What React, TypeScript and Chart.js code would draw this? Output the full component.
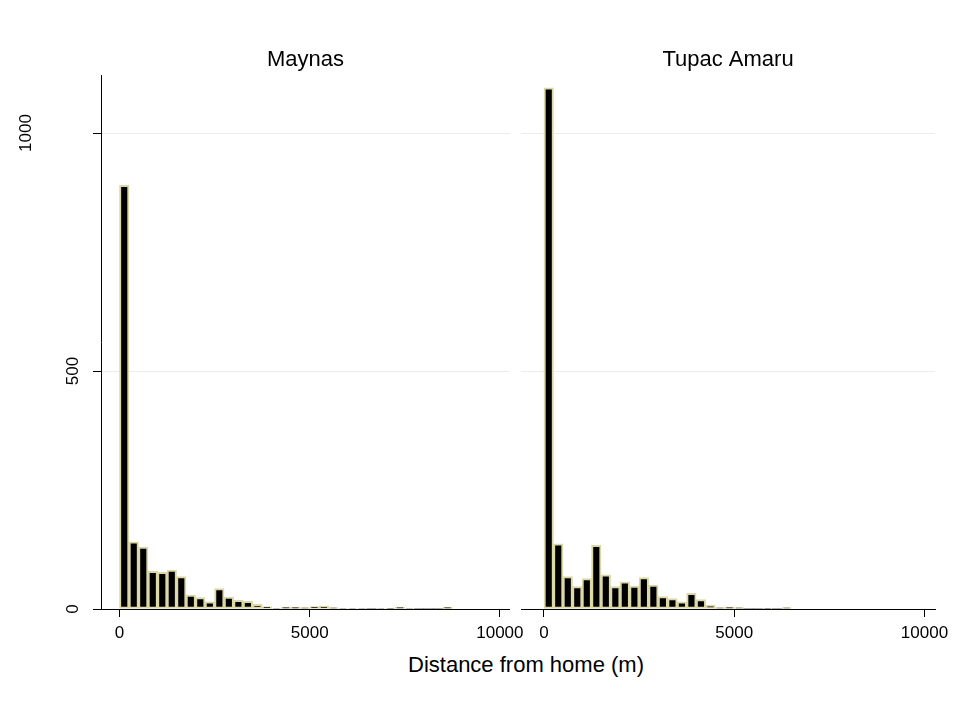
import React, { useEffect, useRef } from "react";
import { Chart, registerables } from "chart.js";

Chart.register(...registerables);

// Histogram bins: 250 m wide, starting at 0 m
const binWidth = 250;
const maynasCounts = [
  890, 141, 130, 79, 77, 82, 68, 29, 24, 15, 43, 25, 18, 16, 10, 5, 1, 4, 4, 3,
  5, 6, 3, 1, 1, 1, 0, 1, 2, 4, 1, 0, 0, 0, 4,
];
const tupacCounts = [
  1095, 137, 68, 47, 64, 134, 72, 47, 57, 48, 66, 50, 26, 22, 15, 33, 20, 8, 3, 4,
  3, 0, 0, 2, 0, 3,
];
const panelTitles = ["Maynas", "Tupac Amaru"];
const xTicks = [0, 5000, 10000];
const yTicksInner = [0, 500, 1000];
const yTicksOuter = [1000];
const xTitle = "Distance from home (m)";

const FONT = "'Liberation Sans', Arial, sans-serif";
const TICK_SIZE = 17;

function toPoints(counts: number[]) {
  return counts.map((c, i) => ({ x: i * binWidth + binWidth / 2, y: c }));
}

const Y_MAX = 1122;

function makeConfig(title: string, counts: number[], showY: boolean, xMin: number, xMax: number, rightPad: number): any {
  const scales: any = {
    x: {
      type: "linear",
      min: xMin,
      max: xMax,
      offset: false,
      afterBuildTicks: (s: any) => {
        s.ticks = xTicks.map((v) => ({ value: v }));
      },
      afterFit: (s: any) => {
        s.height = 41;
      },
      grid: {
        offset: false,
        drawOnChartArea: false,
        drawTicks: true,
        tickLength: 8,
        tickColor: "#000",
        color: "#000",
      },
      border: { display: true, color: "#000", width: 1 },
      ticks: {
        color: "#000",
        font: { family: FONT, size: TICK_SIZE, lineHeight: 1.2 },
        padding: 6,
        maxRotation: 0,
        autoSkip: false,
        callback: (v: any) => String(v),
      },
    },
    y: {
      type: "linear",
      min: 0,
      max: Y_MAX,
      weight: 0,
      afterBuildTicks: (s: any) => {
        s.ticks = yTicksInner.map((v) => ({ value: v }));
      },
      afterFit: (s: any) => {
        s.width = showY ? 51 : 6;
      },
      grid: {
        drawTicks: showY,
        tickLength: 8,
        tickColor: "#000",
        color: (ctx: any) => (ctx.tick && ctx.tick.value === 0 ? "rgba(0,0,0,0)" : "#e9edef"),
        lineWidth: 1,
      },
      border: { display: showY, color: "#000", width: 1 },
      ticks: {
        display: showY,
        color: "#000",
        font: { family: FONT, size: TICK_SIZE },
        minRotation: 90,
        maxRotation: 90,
        crossAlign: "center",
        padding: 6,
        callback: (v: any) => (yTicksOuter.includes(v) ? "" : String(v)),
      },
    },
  };
  if (showY) {
    scales.y2 = {
      type: "linear",
      position: "left",
      min: 0,
      max: Y_MAX,
      weight: 1,
      afterBuildTicks: (s: any) => {
        s.ticks = yTicksOuter.map((v) => ({ value: v }));
      },
      afterFit: (s: any) => {
        s.width = 50;
      },
      grid: { display: false, drawOnChartArea: false, drawTicks: false },
      border: { display: false },
      ticks: {
        color: "#000",
        font: { family: FONT, size: TICK_SIZE },
        minRotation: 90,
        maxRotation: 90,
        crossAlign: "center",
        padding: 5,
        callback: (v: any) => String(v),
      },
    };
  }
  return {
    type: "bar",
    data: {
      datasets: [
        {
          data: toPoints(counts),
          yAxisID: "y",
          backgroundColor: "#000000",
          borderColor: "#dcd7a6",
          borderWidth: (ctx: any) => (ctx.raw && ctx.raw.y > 0 ? 2 : 0),
          borderSkipped: false,
          barPercentage: 1,
          categoryPercentage: 1,
        },
      ],
    },
    options: {
      animation: false,
      responsive: false,
      maintainAspectRatio: false,
      layout: { padding: { left: 0, right: rightPad, top: 0, bottom: 0 } },
      plugins: {
        legend: { display: false },
        tooltip: { enabled: false },
        title: {
          display: true,
          text: title,
          color: "#000",
          font: { family: FONT, size: 22, weight: "normal", lineHeight: 1 },
          padding: { top: 49, bottom: 4 },
          fullSize: false,
        },
      },
      scales,
    },
  };
}

export default function App() {
  const leftRef = useRef<HTMLCanvasElement | null>(null);
  const rightRef = useRef<HTMLCanvasElement | null>(null);

  useEffect(() => {
    const c1 = new Chart(leftRef.current as HTMLCanvasElement, makeConfig(panelTitles[0], maynasCounts, true, -486, 10263, 20));
    const c2 = new Chart(rightRef.current as HTMLCanvasElement, makeConfig(panelTitles[1], tupacCounts, false, -604, 10276, 26));
    return () => {
      c1.destroy();
      c2.destroy();
    };
  }, []);

  return (
    <div style={{ position: "absolute", left: 0, top: 0, width: 961, height: 702, background: "#fff", overflow: "hidden" }}>
      <canvas ref={leftRef} width={530} height={650} style={{ position: "absolute", left: 0, top: 0, width: 530, height: 650 }} />
      <canvas ref={rightRef} width={446} height={650} style={{ position: "absolute", left: 515, top: 0, width: 446, height: 650 }} />
      <div
        style={{
          position: "absolute",
          left: 0,
          width: 1052,
          top: 651,
          textAlign: "center",
          fontFamily: FONT,
          fontSize: 22,
          lineHeight: "28px",
          color: "#000",
        }}
      >
        {xTitle}
      </div>
    </div>
  );
}
